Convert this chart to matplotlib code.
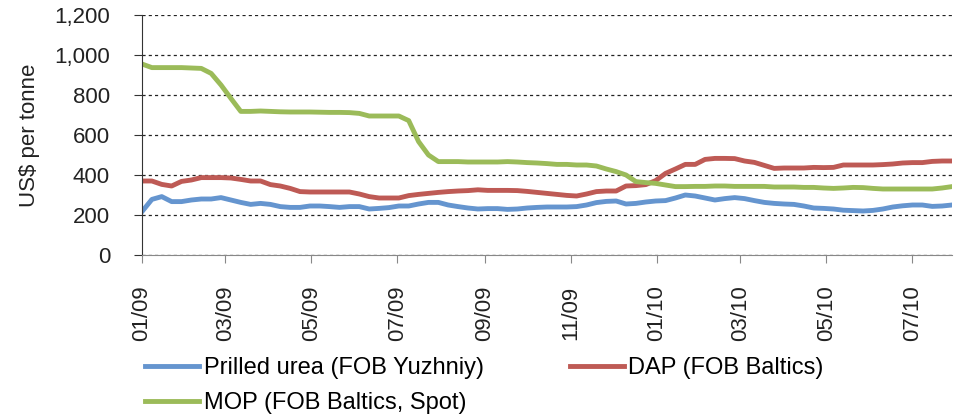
import numpy as np
import pandas as pd
import matplotlib
matplotlib.use("Agg")
import matplotlib.pyplot as plt
import matplotlib.dates as mdates

# weekly prices, US$ per tonne, from the first week of 2009
dates = pd.date_range("2009-01-01", periods=83, freq="7D")

urea = [217, 278, 292, 267, 267, 275, 280, 280, 287, 275,
        263, 253, 258, 253, 242, 238, 238, 245, 245, 242,
        238, 242, 242, 230, 233, 237, 245, 245, 255, 263,
        263, 250, 242, 235, 230, 232, 232, 228, 230, 235,
        238, 240, 240, 240, 242, 250, 262, 268, 270, 255,
        258, 265, 270, 272, 285, 300, 295, 285, 275, 282,
        287, 282, 272, 263, 258, 255, 253, 245, 235, 233,
        230, 224, 222, 220, 223, 230, 240, 246, 250, 250,
        243, 245, 250]

dap = [370, 370, 353, 345, 368, 375, 387, 387, 387, 385,
       378, 370, 370, 352, 345, 333, 317, 315, 315, 315,
       315, 315, 305, 292, 285, 285, 285, 297, 303, 308,
       313, 317, 320, 322, 326, 323, 323, 323, 322, 318,
       313, 308, 303, 298, 295, 305, 317, 320, 320, 345,
       347, 352, 372, 408, 430, 453, 453, 478, 483, 483,
       482, 470, 463, 448, 433, 435, 435, 435, 438, 437,
       438, 450, 450, 450, 450, 452, 455, 460, 462, 462,
       468, 470, 470]

mop = [955, 937, 937, 937, 937, 935, 933, 908, 850, 783,
       718, 718, 720, 718, 716, 715, 715, 715, 714, 713,
       713, 712, 708, 695, 695, 695, 695, 672, 567, 500,
       467, 467, 467, 465, 465, 465, 465, 467, 465, 462,
       460, 457, 453, 453, 450, 450, 445, 430, 417, 400,
       367, 362, 358, 350, 342, 342, 343, 343, 345, 345,
       343, 343, 343, 343, 340, 340, 340, 338, 338, 335,
       333, 335, 338, 337, 333, 330, 330, 330, 330, 330,
       330, 335, 342]

labels = ["Prilled urea (FOB Yuzhniy)", "DAP (FOB Baltics)", "MOP (FOB Baltics, Spot)"]
colors = ["#6595CF", "#BE5A55", "#9BBB59"]

plt.rcParams["font.family"] = ["Liberation Sans", "DejaVu Sans"]
plt.rcParams["font.size"] = 16

fig = plt.figure(figsize=(9.59, 4.16), dpi=100)
ax = fig.add_axes([142 / 959, 1 - 255 / 416, 810 / 959, 240 / 416])

lines = []
for vals, c, lab in zip([urea, dap, mop], colors, labels):
    ln, = ax.plot(dates, vals, color=c, lw=3.5, label=lab, solid_joinstyle="round")
    lines.append(ln)

ax.set_ylim(0, 1200)
ax.set_yticks(np.arange(0, 1201, 200))
ax.yaxis.set_major_formatter(matplotlib.ticker.FuncFormatter(lambda v, p: f"{int(v):,}"))
ax.set_xlim(dates[0], dates[-1])
ax.xaxis.set_major_locator(mdates.MonthLocator(bymonth=[1, 3, 5, 7, 9, 11]))
ax.xaxis.set_major_formatter(mdates.DateFormatter("%m/%y"))

ax.grid(axis="y", color="#222222", linestyle=(0, (2.5, 2.5)), lw=0.9)
ax.set_axisbelow(True)
for s in ["top", "right"]:
    ax.spines[s].set_visible(False)
ax.spines["left"].set_color("#333333")
ax.spines["bottom"].set_color("#888888")
ax.tick_params(axis="y", length=6, color="#333333", pad=17, labelcolor="#222222")
ax.tick_params(axis="x", length=6, color="#888888", pad=16, labelcolor="#222222", labelrotation=90)

ax.set_ylabel("US$ per tonne", color="#222222", labelpad=10)

# column-major fill: urea + MOP in column 1, DAP in column 2
order = [0, 2, 1]
fig.legend([lines[i] for i in order], [labels[i] for i in order],
           loc="upper left", bbox_to_anchor=(145 / 959, 1 - 357 / 416),
           ncol=2, frameon=False, borderpad=0, borderaxespad=0,
           handlelength=2.3, handletextpad=0.18, columnspacing=3.65,
           labelspacing=0.55, fontsize=17)

fig.savefig("out.png", dpi=100)
